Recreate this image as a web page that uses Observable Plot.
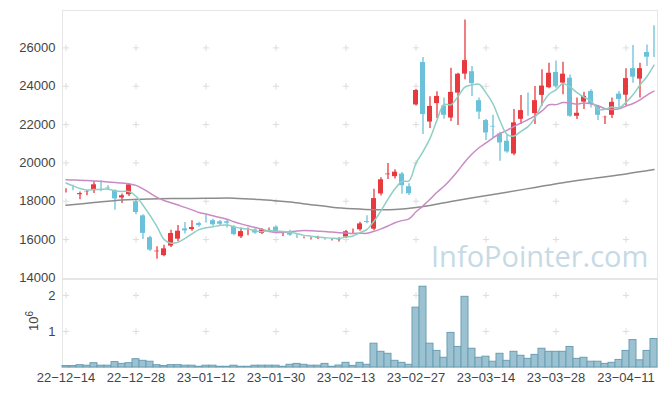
<!DOCTYPE html>
<html><head><meta charset="utf-8">
<script src="https://cdn.jsdelivr.net/npm/d3@7"></script>
<script src="https://cdn.jsdelivr.net/npm/@observablehq/plot@0.6"></script>
<style>
html,body{margin:0;padding:0;background:#fff;}
#wrap{position:relative;width:665px;height:396px;overflow:hidden;font-family:"Liberation Sans",Arial,sans-serif;}
#wrap svg.plt{position:absolute;left:0;}
#wm{position:absolute;left:0;top:0;}
#vlabel{position:absolute;left:33px;top:321px;transform:translate(-50%,-50%) rotate(-90deg);font-size:13px;color:#444;white-space:nowrap;line-height:1;}
#vlabel sup{font-size:10px;vertical-align:5px;line-height:0;}
</style></head>
<body><div id="wrap">
<svg id="wm" width="665" height="396"><text x="431" y="267" font-family="Open Sans" font-size="29" fill="#c6dae5">InfoPointer.com</text></svg>
<div id="vlabel">10<sup>6</sup></div>
</div>
<script>
const dates = ["2022-12-14","2022-12-15","2022-12-16","2022-12-19","2022-12-20","2022-12-21","2022-12-22","2022-12-23","2022-12-26","2022-12-27",
"2022-12-28","2022-12-29","2023-01-02","2023-01-03","2023-01-04","2023-01-05","2023-01-06","2023-01-09","2023-01-10","2023-01-11",
"2023-01-12","2023-01-13","2023-01-16","2023-01-17","2023-01-18","2023-01-19","2023-01-20","2023-01-25","2023-01-26","2023-01-27",
"2023-01-30","2023-01-31","2023-02-01","2023-02-02","2023-02-03","2023-02-06","2023-02-07","2023-02-08","2023-02-09","2023-02-10",
"2023-02-13","2023-02-14","2023-02-15","2023-02-16","2023-02-17","2023-02-20","2023-02-21","2023-02-22","2023-02-23","2023-02-24",
"2023-02-27","2023-02-28","2023-03-02","2023-03-03","2023-03-06","2023-03-07","2023-03-08","2023-03-09","2023-03-10","2023-03-13",
"2023-03-14","2023-03-15","2023-03-16","2023-03-17","2023-03-20","2023-03-21","2023-03-22","2023-03-23","2023-03-24","2023-03-27",
"2023-03-28","2023-03-29","2023-03-30","2023-03-31","2023-04-03","2023-04-04","2023-04-05","2023-04-06","2023-04-07","2023-04-10",
"2023-04-11","2023-04-12","2023-04-13","2023-04-14","2023-04-17"];

const xTicks = ["2022-12-14","2022-12-28","2023-01-12","2023-01-30","2023-02-13","2023-02-27","2023-03-14","2023-03-28","2023-04-11"];
const yTicks = [14000,16000,18000,20000,22000,24000,26000];
const volTicks = [1,2];

const open = [18500,18620,18290,18430,18500,18680,18740,18590,18120,18290,
18020,17290,16150,15310,15110,15610,15970,16610,16470,16890,
16980,17040,16980,16980,16700,16090,16420,16550,16270,16440,
16700,16270,16370,16200,16060,16000,16030,16080,15950,15940,
16080,16340,16460,16990,16490,18330,19330,19230,19470,18810,
22970,25290,22080,23040,23020,22290,23590,24580,24810,23300,
22260,21960,21560,21180,20410,22220,23100,22520,23470,23870,
24770,24110,24470,22380,23120,23780,23000,22310,22430,23640,
23480,24970,24320,25810,26290];
const high = [18650,18830,18480,18580,19020,19050,18820,18600,18380,18920,
18020,17290,16180,15630,15710,16490,16730,16890,16980,16900,
17270,17060,17000,17000,16720,16600,16600,16570,16570,16600,
16720,16400,16490,16290,16130,16100,16180,16100,16020,16090,
16480,16550,16900,17240,18620,19230,19970,19640,19500,18910,
23830,25500,23450,23710,23380,24940,24680,27450,25030,23380,
22260,22480,21600,21440,22780,23510,23640,23990,24860,25200,
25320,25250,24590,23380,23680,23820,23000,22430,23380,23730,
24910,26120,25200,26150,27160];
const low = [18430,18550,18080,18290,18400,18500,18560,17530,17880,18250,
17300,16000,15380,14970,15110,15590,15900,16290,16440,16640,
16860,16700,16740,16600,16200,16060,16200,16280,16260,16420,
16290,16160,16170,16060,16040,15980,16010,15970,15920,15870,
16060,16320,16440,16820,16450,18280,19140,19160,18360,18300,
22970,21480,21790,22310,22280,22160,21950,24340,23470,22260,
21170,21300,20090,20500,20370,22000,22430,22000,22950,23870,
23900,23560,22380,22260,22780,22860,22210,22000,22310,22830,
23000,24160,23380,25030,25500];
const close = [18600,18550,18450,18550,18910,18620,18600,18070,18340,18910,
17360,16270,15400,15450,15570,16370,16490,16400,16680,16680,
16870,16720,16750,16800,16210,16470,16520,16290,16550,16550,
16300,16390,16180,16130,16110,16090,16160,15990,16000,16060,
16460,16420,16870,16840,18190,19170,19470,19570,18760,18340,
23830,22470,23000,23520,22430,23730,24680,25390,24080,22600,
21510,21820,20990,20520,22140,22780,23020,23300,24060,24730,
23940,24680,22380,22640,23520,23000,22430,22430,23210,23260,
24450,24420,24970,25460,26190];
// volume in millions of shares
const volume = [0.04,0.04,0.065,0.05,0.12,0.05,0.05,0.15,0.10,0.12,
0.23,0.185,0.16,0.065,0.04,0.065,0.065,0.05,0.05,0.02,
0.05,0.05,0.02,0.02,0.05,0.02,0.02,0.05,0.05,0.05,
0.05,0.02,0.075,0.10,0.075,0.05,0.05,0.10,0.02,0.055,
0.13,0.045,0.13,0.075,0.66,0.435,0.38,0.185,0.13,0.075,
1.66,2.24,0.66,0.46,0.27,0.96,0.57,1.96,0.52,0.27,
0.30,0.16,0.38,0.185,0.435,0.325,0.24,0.35,0.52,0.435,
0.435,0.435,0.57,0.24,0.27,0.16,0.16,0.10,0.13,0.21,
0.46,0.76,0.20,0.46,0.79];
const ma5 = [18950,18800,18660,18580,18610,18620,18630,18550,18510,18510,
18260,17790,17260,16680,16010,15810,15860,16060,16300,16520,
16620,16670,16740,16760,16670,16590,16550,16460,16410,16480,
16440,16420,16390,16310,16220,16180,16130,16100,16070,16060,
16130,16190,16360,16530,16960,17500,18110,18650,19030,19060,
19990,20590,21280,22230,23050,23030,23470,23950,24060,24100,
23650,23080,22200,21490,21400,21650,21890,22350,23060,23580,
23810,24140,23960,23670,23430,23240,22790,22800,22920,22870,
23160,23550,24060,24510,25100];
const ma20 = [19120,19110,19100,19080,19060,19040,19010,18980,18950,18910,
18830,18650,18420,18200,18040,17920,17800,17680,17550,17410,
17330,17240,17150,17060,16930,16820,16720,16630,16540,16420,
16370,16370,16410,16450,16470,16460,16440,16420,16390,16360,
16340,16320,16330,16330,16430,16560,16710,16880,16990,17080,
17450,17760,18100,18470,18780,19160,19590,20060,20460,20790,
21040,21310,21520,21700,21900,22080,22260,22450,22710,23030,
23040,23150,23120,23070,23130,23090,22980,22830,22790,22820,
22970,23100,23290,23540,23740];
const ma60Dates = ["2022-12-14","2022-12-20","2022-12-26","2023-01-02","2023-01-06","2023-01-12","2023-01-18","2023-01-26",
"2023-02-01","2023-02-06","2023-02-09","2023-02-14","2023-02-17","2023-02-22","2023-02-27","2023-03-07","2023-03-13",
"2023-03-17","2023-03-23","2023-03-29","2023-04-05","2023-04-11","2023-04-17"];
const ma60 = [17790,17930,18060,18120,18140,18150,18160,18080,
17960,17820,17690,17610,17560,17570,17670,17990,18240,
18470,18720,18970,19220,19420,19650];

(function () {
  const UP = "#e8393e", DOWN = "#6cc1da";
  const rows = dates.map((d, i) => ({date: d, open: open[i], high: high[i], low: low[i], close: close[i],
    volume: volume[i], ma5: ma5[i], ma20: ma20[i], color: close[i] >= open[i] ? UP : DOWN}));
  const ma60Rows = ma60Dates.map((d, i) => ({date: d, v: ma60[i]}));
  const crossTop = xTicks.flatMap(x => yTicks.filter(y => y > yTicks[0]).map(y => ({x, y})));
  const crossVol = xTicks.flatMap(x => volTicks.map(y => ({x, y})));
  const fmt = d => d.slice(2).replace(/-/g, "\u2212");
  const style = {background: "transparent", fontFamily: "'Liberation Sans', Arial, sans-serif", fontSize: "13px", color: "#444", overflow: "visible"};

  const pricePlot = Plot.plot({
    width: 665, height: 279, marginLeft: 62, marginRight: 8, marginTop: 10, marginBottom: 1,
    style,
    x: {type: "band", domain: dates, padding: 0, axis: null},
    y: {domain: [13970, 27950], ticks: yTicks, tickSize: 0, tickPadding: 7, label: null, tickFormat: d => String(d)},
    marks: [
      Plot.frame({stroke: "#e6e6e6"}),
      Plot.dot(crossTop, {x: "x", y: "y", symbol: "plus", r: 2.2, stroke: "#dddddd", strokeWidth: 1}),
      Plot.ruleX(rows, {x: "date", y1: "low", y2: "high", stroke: "color", strokeWidth: 1.3}),
      Plot.barY(rows, {x: "date", y1: "open", y2: "close", fill: "color", inset: 1}),
      Plot.line(ma60Rows, {x: "date", y: "v", stroke: "#8c8c8c", strokeWidth: 1.5, curve: "catmull-rom"}),
      Plot.line(rows, {x: "date", y: "ma20", stroke: "#c98bc4", strokeWidth: 1.5, curve: "catmull-rom"}),
      Plot.line(rows, {x: "date", y: "ma5", stroke: "#8ecfc4", strokeWidth: 1.5, curve: "catmull-rom"})
    ]
  });
  pricePlot.classList.add("plt"); pricePlot.style.top = "0px";

  const volPlot = Plot.plot({
    width: 665, height: 117, marginLeft: 62, marginRight: 8, marginTop: 0, marginBottom: 29,
    style,
    x: {type: "band", domain: dates, padding: 0, ticks: xTicks, tickFormat: fmt, tickSize: 0, tickPadding: 5, label: null},
    y: {domain: [0, 2.44], ticks: volTicks, tickFormat: d => String(d), tickSize: 0, tickPadding: 7, label: null},
    marks: [
      Plot.frame({stroke: "#e6e6e6"}),
      Plot.dot(crossVol, {x: "x", y: "y", symbol: "plus", r: 2.2, stroke: "#dddddd", strokeWidth: 1}),
      Plot.barY(rows, {x: "date", y: "volume", fill: "#9cc2d2", stroke: "#6b9eb3", strokeWidth: 1, inset: 0})
    ]
  });
  volPlot.classList.add("plt"); volPlot.style.top = "279px";

  const wrap = document.getElementById("wrap");
  wrap.appendChild(pricePlot);
  wrap.appendChild(volPlot);
})();
</script>
</body></html>
